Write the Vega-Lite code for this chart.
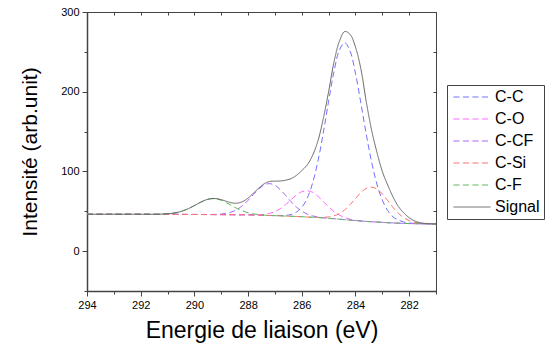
{
  "$schema": "https://vega.github.io/schema/vega-lite/v6.json",
  "autosize": {"type": "none"},
  "padding": {"left": 87, "top": 12, "right": 116, "bottom": 56},
  "width": 349,
  "height": 279,
  "background": "white",
  "data": {"values": [
    {"E": 294, "C-C": 46.3, "C-O": 46.3, "C-CF": 46.3, "C-Si": 46.3, "C-F": 46.3, "Signal": 46.3},
    {"E": 293, "C-C": 46.3, "C-O": 46.3, "C-CF": 46.3, "C-Si": 46.3, "C-F": 46.3, "Signal": 46.3},
    {"E": 292, "C-C": 46.3, "C-O": 46.3, "C-CF": 46.3, "C-Si": 46.3, "C-F": 46.3, "Signal": 46.3},
    {"E": 291.4, "C-C": 46.2, "C-O": 46.2, "C-CF": 46.2, "C-Si": 46.2, "C-F": 46.3, "Signal": 46.3},
    {"E": 291.0, "C-C": 46.2, "C-O": 46.2, "C-CF": 46.2, "C-Si": 46.2, "C-F": 46.9, "Signal": 46.9},
    {"E": 290.8, "C-C": 46.2, "C-O": 46.2, "C-CF": 46.2, "C-Si": 46.2, "C-F": 47.6, "Signal": 47.6},
    {"E": 290.6, "C-C": 46.1, "C-O": 46.1, "C-CF": 46.1, "C-Si": 46.1, "C-F": 48.8, "Signal": 48.8},
    {"E": 290.4, "C-C": 46.1, "C-O": 46.1, "C-CF": 46.1, "C-Si": 46.1, "C-F": 50.9, "Signal": 50.9},
    {"E": 290.2, "C-C": 46.0, "C-O": 46.0, "C-CF": 46.0, "C-Si": 46.0, "C-F": 53.7, "Signal": 53.7},
    {"E": 290.0, "C-C": 46.0, "C-O": 46.0, "C-CF": 46.0, "C-Si": 46.0, "C-F": 57.2, "Signal": 57.2},
    {"E": 289.8, "C-C": 46.0, "C-O": 46.0, "C-CF": 46.0, "C-Si": 46.0, "C-F": 60.8, "Signal": 60.8},
    {"E": 289.6, "C-C": 45.9, "C-O": 45.9, "C-CF": 46.0, "C-Si": 45.9, "C-F": 63.9, "Signal": 63.9},
    {"E": 289.4, "C-C": 45.9, "C-O": 45.9, "C-CF": 46.0, "C-Si": 45.9, "C-F": 65.6, "Signal": 65.8},
    {"E": 289.2, "C-C": 45.8, "C-O": 45.8, "C-CF": 46.1, "C-Si": 45.8, "C-F": 65.6, "Signal": 65.9},
    {"E": 289.0, "C-C": 45.8, "C-O": 45.8, "C-CF": 46.6, "C-Si": 45.8, "C-F": 63.8, "Signal": 64.6},
    {"E": 288.8, "C-C": 45.7, "C-O": 45.7, "C-CF": 47.5, "C-Si": 45.7, "C-F": 60.6, "Signal": 62.4},
    {"E": 288.6, "C-C": 45.7, "C-O": 45.7, "C-CF": 49.3, "C-Si": 45.7, "C-F": 56.9, "Signal": 60.5},
    {"E": 288.4, "C-C": 45.6, "C-O": 45.6, "C-CF": 52.5, "C-Si": 45.6, "C-F": 53.3, "Signal": 60.2},
    {"E": 288.2, "C-C": 45.6, "C-O": 45.6, "C-CF": 57.4, "C-Si": 45.6, "C-F": 50.3, "Signal": 62.2},
    {"E": 288.0, "C-C": 45.5, "C-O": 45.6, "C-CF": 63.8, "C-Si": 45.5, "C-F": 48.2, "Signal": 66.6},
    {"E": 287.8, "C-C": 45.3, "C-O": 45.5, "C-CF": 71.1, "C-Si": 45.3, "C-F": 46.7, "Signal": 72.7},
    {"E": 287.6, "C-C": 45.1, "C-O": 45.6, "C-CF": 78.0, "C-Si": 45.1, "C-F": 45.8, "Signal": 79.1},
    {"E": 287.4, "C-C": 44.9, "C-O": 46.1, "C-CF": 83.0, "C-Si": 44.9, "C-F": 45.2, "Signal": 84.5},
    {"E": 287.2, "C-C": 44.7, "C-O": 47.3, "C-CF": 84.7, "C-Si": 44.7, "C-F": 44.8, "Signal": 87.4},
    {"E": 287.0, "C-C": 44.6, "C-O": 49.6, "C-CF": 82.6, "C-Si": 44.5, "C-F": 44.5, "Signal": 87.8},
    {"E": 286.8, "C-C": 44.6, "C-O": 53.3, "C-CF": 77.2, "C-Si": 44.3, "C-F": 44.3, "Signal": 88.0},
    {"E": 286.6, "C-C": 44.9, "C-O": 58.4, "C-CF": 69.8, "C-Si": 44.0, "C-F": 44.0, "Signal": 89.0},
    {"E": 286.4, "C-C": 46.0, "C-O": 64.4, "C-CF": 62.1, "C-Si": 43.8, "C-F": 43.8, "Signal": 91.0},
    {"E": 286.2, "C-C": 48.9, "C-O": 70.3, "C-CF": 55.3, "C-Si": 43.5, "C-F": 43.5, "Signal": 95.0},
    {"E": 286.0, "C-C": 55.0, "C-O": 74.5, "C-CF": 50.1, "C-Si": 43.2, "C-F": 43.2, "Signal": 101.0},
    {"E": 285.8, "C-C": 66.2, "C-O": 75.8, "C-CF": 46.5, "C-Si": 42.8, "C-F": 42.8, "Signal": 108.0},
    {"E": 285.6, "C-C": 85.0, "C-O": 73.8, "C-CF": 44.2, "C-Si": 42.6, "C-F": 42.5, "Signal": 120.0},
    {"E": 285.4, "C-C": 112.5, "C-O": 68.9, "C-CF": 42.9, "C-Si": 42.4, "C-F": 42.1, "Signal": 138.0},
    {"E": 285.2, "C-C": 148.1, "C-O": 62.3, "C-CF": 41.9, "C-Si": 42.4, "C-F": 41.6, "Signal": 166.0},
    {"E": 285.0, "C-C": 188.1, "C-O": 55.6, "C-CF": 41.3, "C-Si": 42.9, "C-F": 41.2, "Signal": 200.0},
    {"E": 284.8, "C-C": 225.4, "C-O": 49.6, "C-CF": 40.7, "C-Si": 44.3, "C-F": 40.6, "Signal": 237.0},
    {"E": 284.6, "C-C": 252.1, "C-O": 45.2, "C-CF": 40.1, "C-Si": 47.2, "C-F": 40.1, "Signal": 263.0},
    {"E": 284.4, "C-C": 261.5, "C-O": 42.1, "C-CF": 39.5, "C-Si": 51.8, "C-F": 39.5, "Signal": 275.5},
    {"E": 284.2, "C-C": 250.9, "C-O": 40.1, "C-CF": 38.9, "C-Si": 58.3, "C-F": 38.9, "Signal": 272.0},
    {"E": 284.0, "C-C": 223.1, "C-O": 38.8, "C-CF": 38.3, "C-Si": 65.9, "C-F": 38.3, "Signal": 256.0},
    {"E": 283.8, "C-C": 186.0, "C-O": 38.0, "C-CF": 37.8, "C-Si": 73.4, "C-F": 37.8, "Signal": 229.0},
    {"E": 283.6, "C-C": 147.0, "C-O": 37.4, "C-CF": 37.3, "C-Si": 78.7, "C-F": 37.3, "Signal": 188.0},
    {"E": 283.4, "C-C": 112.0, "C-O": 36.9, "C-CF": 36.9, "C-Si": 80.4, "C-F": 36.9, "Signal": 152.0},
    {"E": 283.2, "C-C": 84.0, "C-O": 36.5, "C-CF": 36.5, "C-Si": 77.9, "C-F": 36.5, "Signal": 124.0},
    {"E": 283.0, "C-C": 64.0, "C-O": 36.1, "C-CF": 36.1, "C-Si": 71.7, "C-F": 36.1, "Signal": 100.0},
    {"E": 282.8, "C-C": 51.0, "C-O": 35.7, "C-CF": 35.7, "C-Si": 63.4, "C-F": 35.7, "Signal": 83.0},
    {"E": 282.6, "C-C": 43.0, "C-O": 35.4, "C-CF": 35.4, "C-Si": 54.8, "C-F": 35.4, "Signal": 68.0},
    {"E": 282.4, "C-C": 39.0, "C-O": 35.1, "C-CF": 35.1, "C-Si": 47.4, "C-F": 35.1, "Signal": 56.0},
    {"E": 282.2, "C-C": 36.5, "C-O": 34.8, "C-CF": 34.8, "C-Si": 41.9, "C-F": 34.8, "Signal": 48.0},
    {"E": 282.0, "C-C": 35.2, "C-O": 34.6, "C-CF": 34.6, "C-Si": 38.3, "C-F": 34.6, "Signal": 42.0},
    {"E": 281.8, "C-C": 34.7, "C-O": 34.5, "C-CF": 34.5, "C-Si": 36.2, "C-F": 34.5, "Signal": 38.0},
    {"E": 281.6, "C-C": 34.5, "C-O": 34.4, "C-CF": 34.4, "C-Si": 35.1, "C-F": 34.4, "Signal": 35.8},
    {"E": 281.4, "C-C": 34.3, "C-O": 34.3, "C-CF": 34.3, "C-Si": 34.5, "C-F": 34.3, "Signal": 34.8},
    {"E": 281.2, "C-C": 34.2, "C-O": 34.2, "C-CF": 34.2, "C-Si": 34.3, "C-F": 34.2, "Signal": 34.3},
    {"E": 281.0, "C-C": 34.1, "C-O": 34.1, "C-CF": 34.1, "C-Si": 34.1, "C-F": 34.1, "Signal": 34.1}
  ]},
  "transform": [
    {"fold": ["C-C", "C-O", "C-CF", "C-Si", "C-F", "Signal"], "as": ["series", "value"]}
  ],
  "layer": [
    {
      "mark": {"type": "line", "interpolate": "catmull-rom", "strokeWidth": 1, "clip": true},
      "encoding": {
        "x": {
          "field": "E", "type": "quantitative",
          "scale": {"domain": [281, 294], "reverse": true, "nice": false, "zero": false},
          "axis": {
            "orient": "bottom",
            "values": [281, 282, 283, 284, 285, 286, 287, 288, 289, 290, 291, 292, 293, 294],
            "labelExpr": "datum.value % 2 == 0 ? datum.label : ''",
            "tickSize": {"condition": {"test": "datum.value % 2 == 0", "value": 5}, "value": 3},
            "title": "Energie de liaison (eV)",
            "titleFontSize": 23,
            "titlePadding": 9,
            "domainWidth": 1.5,
            "labelOverlap": false,
            "labelFlush": false
          }
        },
        "y": {
          "field": "value", "type": "quantitative",
          "scale": {"domain": [-50, 300], "nice": false, "zero": false},
          "axis": {
            "orient": "left",
            "values": [-50, 0, 50, 100, 150, 200, 250, 300],
            "labelExpr": "datum.value % 100 == 0 ? datum.label : ''",
            "tickSize": {"condition": {"test": "datum.value % 100 == 0", "value": 5}, "value": 3},
            "title": "Intensité (arb.unit)",
            "titleFontSize": 21,
            "titlePadding": 20,
            "domainWidth": 1.5,
            "labelOverlap": false,
            "labelFlush": false
          }
        },
        "color": {
          "field": "series", "type": "nominal",
          "scale": {
            "domain": ["C-C", "C-O", "C-CF", "C-Si", "C-F", "Signal"],
            "range": ["#7070ff", "#ff66ff", "#a366ff", "#ff7070", "#5cb85c", "#666666"]
          },
          "legend": {"title": null, "orient": "none", "legendX": 360, "legendY": 73}
        },
        "strokeDash": {
          "field": "series", "type": "nominal",
          "scale": {
            "domain": ["C-C", "C-O", "C-CF", "C-Si", "C-F", "Signal"],
            "range": [[6, 3.5], [6, 3.5], [6, 3.5], [6, 3.5], [6, 3.5], [1, 0]]
          },
          "legend": {"title": null, "orient": "none", "legendX": 360, "legendY": 73}
        }
      }
    },
    {
      "mark": {"type": "point", "opacity": 0},
      "transform": [{"filter": "datum.series == 'Signal'"}],
      "encoding": {
        "x": {
          "field": "E", "type": "quantitative",
          "axis": {
            "orient": "top",
            "values": [281, 282, 283, 284, 285, 286, 287, 288, 289, 290, 291, 292, 293, 294],
            "labels": false, "title": null, "tickSize": -3, "domainWidth": 1
          }
        },
        "y": {
          "field": "value", "type": "quantitative",
          "axis": {
            "orient": "right",
            "values": [-50, 0, 50, 100, 150, 200, 250, 300],
            "labels": false, "title": null, "tickSize": -3, "domainWidth": 1
          }
        }
      }
    }
  ],
  "resolve": {"axis": {"x": "independent", "y": "independent"}},
  "config": {
    "view": {"stroke": "#444", "strokeWidth": 1},
    "axis": {
      "labelFont": "Liberation Sans",
      "labelFontSize": 11,
      "labelColor": "black",
      "labelPadding": 3,
      "titleFont": "Liberation Sans",
      "titleFontWeight": "normal",
      "titleColor": "black",
      "domainColor": "#444",
      "tickColor": "#444",
      "tickWidth": 1,
      "grid": false
    },
    "legend": {
      "labelFont": "Liberation Sans",
      "labelFontSize": 16,
      "labelColor": "black",
      "symbolType": "M-2.47,0H2.47",
      "symbolSize": 225,
      "symbolStrokeWidth": 1,
      "symbolOffset": 13,
      "strokeColor": "#444",
      "padding": 4,
      "rowPadding": 6,
      "labelOffset": 15
    }
  }
}
